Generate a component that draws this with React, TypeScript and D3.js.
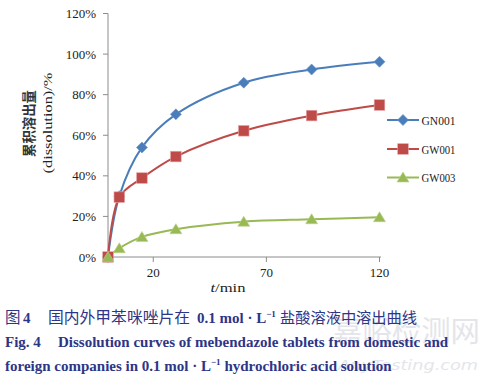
import React from "react";
import * as d3 from "d3";

const times = [0, 5, 15, 30, 60, 90, 120];
const seriesNames = ["GN001", "GW001", "GW003"];
const gn001 = [0, 30, 54, 70.3, 85.9, 92.4, 96.2];
const gw001 = [0, 29.5, 38.9, 49.5, 62.2, 69.7, 74.9];
const gw003 = [0, 4.3, 9.9, 13.7, 17.4, 18.6, 19.6];
const yTicks = [0, 20, 40, 60, 80, 100, 120];
const xTicks = [20, 70, 120];
const colors = ["#4a7ebb", "#be4b48", "#98b954"];

const W = 483, H = 381;
const x = d3.scaleLinear().domain([0, 120]).range([108, 379.5]);
const y = d3.scaleLinear().domain([0, 120]).range([257, 13.5]);

function Marker({ kind, cx, cy, color }: { kind: number; cx: number; cy: number; color: string }) {
  if (kind === 0) {
    const r = 5.5;
    return <path d={`M${cx},${cy - r}L${cx + r},${cy}L${cx},${cy + r}L${cx - r},${cy}Z`} fill={color} stroke="#6b93cc" strokeWidth={0.6} />;
  }
  if (kind === 1) {
    const s = 5.3;
    return <rect x={cx - s} y={cy - s} width={2 * s} height={2 * s} fill={color} stroke="#e3a3a5" strokeWidth={0.6} />;
  }
  const h = 5.5;
  return <path d={`M${cx},${cy - h}L${cx + 6},${cy + 4.5}L${cx - 6},${cy + 4.5}Z`} fill={color} stroke="#b8d38a" strokeWidth={0.6} />;
}

export default function App() {
  const data = [gn001, gw001, gw003];
  const line = d3
    .line<number>()
    .x((_, i) => x(times[i]))
    .y((d) => y(d))
    .curve(d3.curveCatmullRom.alpha(0.5));
  const legendY = [120, 149, 177.5];
  const capColor = "#2e3586";
  return (
    <svg width={W} height={H} style={{ position: "absolute", left: 0, top: 0, background: "#fff" }}>
      {/* watermark */}
      <g opacity={0.5}>
        <text x={333} y={342} fontFamily="Noto Sans CJK SC" fontSize={29} fill="#c9cdd6" textLength={147} lengthAdjust="spacingAndGlyphs">嘉峪检测网</text>
        <text x={338} y={370} fontFamily="DejaVu Sans" fontStyle="italic" fontSize={14} fill="#c9cdd6" textLength={140} lengthAdjust="spacingAndGlyphs">AnyTesting.com</text>
      </g>
      {/* axes */}
      <line x1={108} y1={13.5} x2={108} y2={257} stroke="#8c8c8c" strokeWidth={1} />
      <line x1={108} y1={257} x2={381} y2={257} stroke="#8c8c8c" strokeWidth={1} />
      {yTicks.map((t) => (
        <g key={t}>
          <line x1={103} x2={108} y1={y(t)} y2={y(t)} stroke="#8c8c8c" />
          <text x={96} y={y(t) + 4.5} textAnchor="end" fontFamily="Liberation Serif" fontSize={13} fill="#222">
            {t}%
          </text>
        </g>
      ))}
      {xTicks.map((t) => (
        <g key={t}>
          <line x1={x(t)} x2={x(t)} y1={257} y2={262} stroke="#8c8c8c" />
          <text x={x(t)} y={277} textAnchor="middle" fontFamily="Liberation Serif" fontSize={13} fill="#222">
            {t}
          </text>
        </g>
      ))}
      {/* axis titles */}
      <text transform="translate(34,123.5) rotate(-90)" textAnchor="middle" fontFamily="Noto Sans CJK SC" fontWeight="bold" fontSize={13.5} fill="#333" textLength={67} lengthAdjust="spacingAndGlyphs">
        累积溶出量
      </text>
      <text transform="translate(52,123) rotate(-90)" textAnchor="middle" fontFamily="Liberation Serif" fontSize={12} fill="#222" textLength={101} lengthAdjust="spacingAndGlyphs">
        (dissolution)/%
      </text>
      <text x={228} y={292} textAnchor="middle" fontFamily="Liberation Serif" fontSize={12.5} fill="#222" textLength={35} lengthAdjust="spacingAndGlyphs">
        <tspan fontStyle="italic">t</tspan>/min
      </text>
      {/* series */}
      {data.map((vals, si) => (
        <g key={si}>
          <path d={line(vals) || ""} fill="none" stroke={colors[si]} strokeWidth={2} />
        </g>
      ))}
      {data.map((vals, si) => (
        <g key={"m" + si}>
          {vals.map((v, i) => (
            <Marker key={i} kind={si} cx={x(times[i])} cy={y(v)} color={colors[si]} />
          ))}
        </g>
      ))}
      {/* legend */}
      {seriesNames.map((n, si) => (
        <g key={n}>
          <line x1={387} x2={419} y1={legendY[si]} y2={legendY[si]} stroke={colors[si]} strokeWidth={2} />
          <Marker kind={si} cx={403} cy={legendY[si]} color={colors[si]} />
          <text x={421.5} y={legendY[si] + 4.5} fontFamily="Liberation Serif" fontSize={13} fill="#222" textLength={34} lengthAdjust="spacingAndGlyphs">
            {n}
          </text>
        </g>
      ))}
      {/* caption */}
      <text y={323} fill={capColor} fontSize={15}>
        <tspan x={5} fontFamily="Noto Sans CJK SC" fontSize={15.5}>图</tspan>
        <tspan x={23} fontFamily="Liberation Serif" fontWeight="bold">4</tspan>
        <tspan x={48} fontFamily="Noto Sans CJK SC" fontSize={15.8} textLength={142} lengthAdjust="spacingAndGlyphs">国内外甲苯咪唑片在</tspan>
        <tspan x={197} fontFamily="Liberation Serif" fontWeight="bold">0.1 mol · L</tspan>
        <tspan fontFamily="Liberation Serif" fontWeight="bold" fontSize={9} dy={-6}>−1</tspan>
        <tspan x={280} dy={6} fontFamily="Noto Sans CJK SC" fontSize={15.3} textLength={137} lengthAdjust="spacingAndGlyphs">盐酸溶液中溶出曲线</tspan>
      </text>
      <text x={5} y={347} fill={capColor} fontSize={15} fontFamily="Liberation Serif" fontWeight="bold">
        <tspan>Fig. 4</tspan>
        <tspan x={58}>Dissolution curves of mebendazole tablets from domestic and</tspan>
      </text>
      <text x={5} y={371} fill={capColor} fontSize={15} fontFamily="Liberation Serif" fontWeight="bold">
        <tspan>foreign companies in 0.1 mol · L</tspan>
        <tspan fontSize={9} dy={-6}>−1</tspan>
        <tspan dy={6}> hydrochloric acid solution</tspan>
      </text>
    </svg>
  );
}
